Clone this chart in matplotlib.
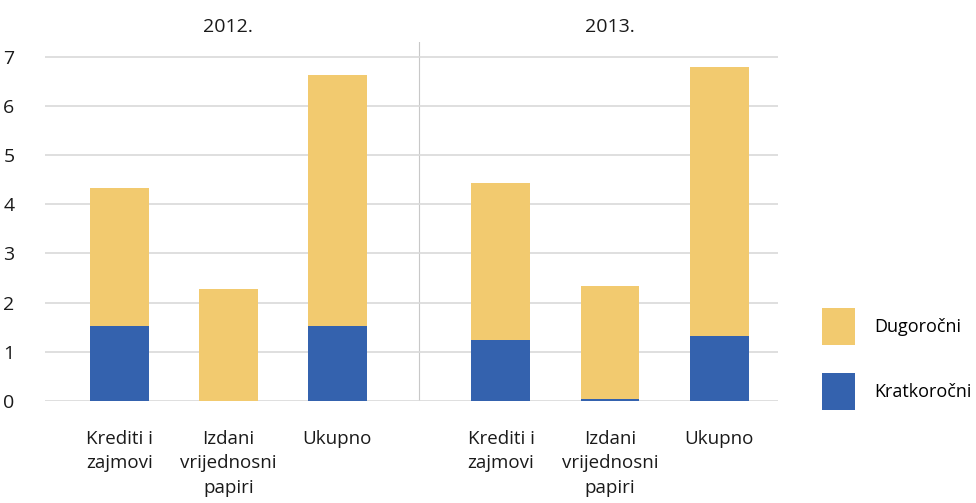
import matplotlib.pyplot as plt
import numpy as np

plt.rcParams['font.family'] = ['Open Sans', 'DejaVu Sans']

# Podaci
godine = ['2012.', '2013.']
kategorije = ['Krediti i\nzajmovi', 'Izdani\nvrijednosni\npapiri', 'Ukupno']
kratkorocni = [1.53, 0.0, 1.53, 1.24, 0.05, 1.32]
dugorocni = [2.81, 2.28, 5.09, 3.20, 2.29, 5.48]

boja_kratko = '#3462ae'
boja_dugo = '#f2ca6f'

fig = plt.figure(figsize=(9.76, 5.03), dpi=100)
ax = fig.add_axes([45 / 976, 102 / 503, (778 - 45) / 976, (503 - 102 - 42) / 503])

x = np.array([0, 1, 2, 3.5, 4.5, 5.5])
sirina = 0.54

ax.bar(x, kratkorocni, sirina, color=boja_kratko, label='Kratkoročni', zorder=3)
ax.bar(x, dugorocni, sirina, bottom=kratkorocni, color=boja_dugo, label='Dugoročni', zorder=3)

ax.set_xlim(-0.68, 6.04)
ax.set_ylim(0, 7.3)
ax.set_yticks(range(0, 8))
ax.grid(axis='y', color='#d9d9d9', linewidth=1.2, zorder=0)
ax.axvline(2.75, color='#c8c8c8', linewidth=0.8, zorder=1)

for s in ax.spines.values():
    s.set_visible(False)

ax.set_xticks(x)
ax.set_xticklabels(kategorije * 2, fontsize=13.5, linespacing=1.45, color='#1a1a1a')
ax.tick_params(axis='x', length=0, pad=21)
ax.tick_params(axis='y', length=0, pad=22, labelsize=14, labelcolor='#1a1a1a')

# naslovi godina
for i, g in enumerate(godine):
    ax.text(x[i * 3 + 1], 1.0 + 6 / 359, g, transform=ax.get_xaxis_transform(),
            ha='center', va='bottom', fontsize=14, color='#1a1a1a')

# legenda
h, l = ax.get_legend_handles_labels()
fig.legend(h[::-1], l[::-1], loc='center left', bbox_to_anchor=(806 / 976, 1 - 359 / 503),
           frameon=False, fontsize=13, handlelength=1.8, handleheight=2.7,
           labelspacing=1.6, handletextpad=1.1)

plt.savefig('out.png', dpi=100)
